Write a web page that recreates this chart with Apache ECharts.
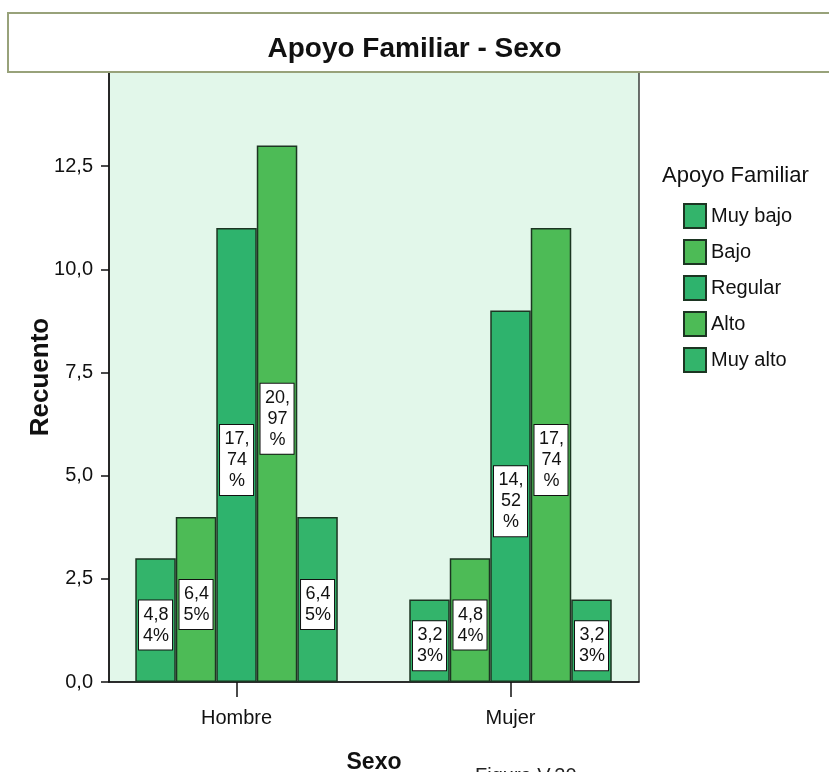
<!DOCTYPE html>
<html>
<head>
<meta charset="utf-8">
<script src="https://cdn.jsdelivr.net/npm/echarts@6/dist/echarts.min.js"></script>
<style>
html,body{margin:0;padding:0;background:#ffffff;}
#chart{width:829px;height:772px;}
</style>
</head>
<body>
<div id="chart"></div>
<script>
// ---- data ----
var categories = ['Hombre', 'Mujer'];
var categoryPositions = [1, 2];
var seriesNames = ['Muy bajo', 'Bajo', 'Regular', 'Alto', 'Muy alto'];
var muyBajo = [3, 2];
var bajo = [4, 3];
var regular = [11, 9];
var alto = [13, 11];
var muyAlto = [4, 2];
var yTicks = [0, 2.5, 5, 7.5, 10, 12.5];
var seriesColors = ['#33b46b', '#4dbb56', '#2eb36d', '#4dbb56', '#33b46b'];

var seriesValues = [muyBajo, bajo, regular, alto, muyAlto];
var total = 0;
seriesValues.forEach(function (arr) { arr.forEach(function (v) { total += v; }); });

var FONT = "'Liberation Sans', Arial, sans-serif";

function pct(v) {
  return (v / total * 100).toFixed(2).replace('.', ',') + '%';
}

var series = seriesValues.map(function (vals, i) {
  return {
    name: seriesNames[i],
    type: 'bar',
    barWidth: 40.5,
    barGap: '0%',
    data: vals.map(function (v, j) { return [categoryPositions[j], v]; }),
    itemStyle: { color: seriesColors[i], borderColor: '#1c3522', borderWidth: 1.5 },
    label: {
      show: true,
      position: 'inside',
      offset: [0, 5],
      formatter: function (p) { return pct(p.value[1]); },
      width: 28,
      overflow: 'breakAll',
      align: 'center',
      fontFamily: FONT,
      fontSize: 18,
      lineHeight: 21,
      color: '#111',
      backgroundColor: '#ffffff',
      borderColor: '#111',
      borderWidth: 1,
      padding: [4, 2, 3, 3]
    },
    emphasis: { disabled: true }
  };
});

var chart = echarts.init(document.getElementById('chart'), null, { renderer: 'canvas' });
chart.setOption({
  animation: false,
  backgroundColor: '#ffffff',
  grid: {
    left: 109, right: 190, top: 72, bottom: 90,
    outerBoundsMode: 'none',
    containLabel: false,
    show: true,
    backgroundColor: '#e2f7ea',
    borderColor: '#111',
    borderWidth: 1.2
  },
  xAxis: {
    type: 'value',
    min: 0.5345,
    max: 2.469,
    name: 'Sexo',
    nameLocation: 'middle',
    nameGap: 69,
    nameTextStyle: { fontFamily: FONT, fontSize: 23, fontWeight: 'bold', color: '#111' },
    axisLine: { show: true, lineStyle: { color: '#111', width: 1.5 } },
    axisTick: { show: true, length: 15, customValues: categoryPositions, lineStyle: { color: '#111', width: 1.5 } },
    axisLabel: {
      customValues: categoryPositions,
      margin: 26,
      fontFamily: FONT, fontSize: 20, color: '#111',
      formatter: function (v) {
        var idx = categoryPositions.indexOf(v);
        return idx >= 0 ? categories[idx] : '';
      }
    },
    splitLine: { show: false }
  },
  yAxis: {
    type: 'value',
    min: 0,
    max: 14.78,
    name: 'Recuento',
    nameLocation: 'middle',
    nameGap: 55,
    nameMoveOverlap: false,
    nameRotate: 90,
    nameTextStyle: { fontFamily: FONT, fontSize: 26, fontWeight: 'bold', color: '#111' },
    axisLine: { show: true, lineStyle: { color: '#111', width: 1.5 } },
    axisTick: { show: true, length: 8, customValues: yTicks, lineStyle: { color: '#111', width: 1.5 } },
    axisLabel: {
      customValues: yTicks,
      margin: 16,
      fontFamily: FONT, fontSize: 20, color: '#111',
      formatter: function (v) { return v.toFixed(1).replace('.', ','); }
    },
    splitLine: { show: false }
  },
  legend: {
    data: seriesNames,
    orient: 'vertical',
    left: 683,
    top: 203,
    padding: 0,
    itemWidth: 22,
    itemHeight: 24,
    itemGap: 10,
    icon: 'rect',
    selectedMode: false,
    textStyle: { fontFamily: FONT, fontSize: 20, color: '#111' }
  },
  graphic: [
    {
      type: 'rect', z: 100,
      shape: { x: 8, y: 13, width: 840, height: 59 },
      style: { fill: '#ffffff', stroke: '#98a27a', lineWidth: 2 }
    },
    {
      type: 'text', z: 101,
      left: 'center', top: 35,
      style: { text: 'Apoyo Familiar - Sexo', fontFamily: FONT, fontSize: 28, fontWeight: 'bold', fill: '#111' }
    },
    {
      type: 'text', z: 101,
      left: 662, top: 165,
      style: { text: 'Apoyo Familiar', fontFamily: FONT, fontSize: 22, fill: '#111' }
    },
    {
      type: 'text', z: 101,
      left: 475, top: 766,
      style: { text: 'Figura V.20', fontFamily: FONT, fontSize: 20, fill: '#222' }
    }
  ],
  series: series
});
</script>
</body>
</html>
